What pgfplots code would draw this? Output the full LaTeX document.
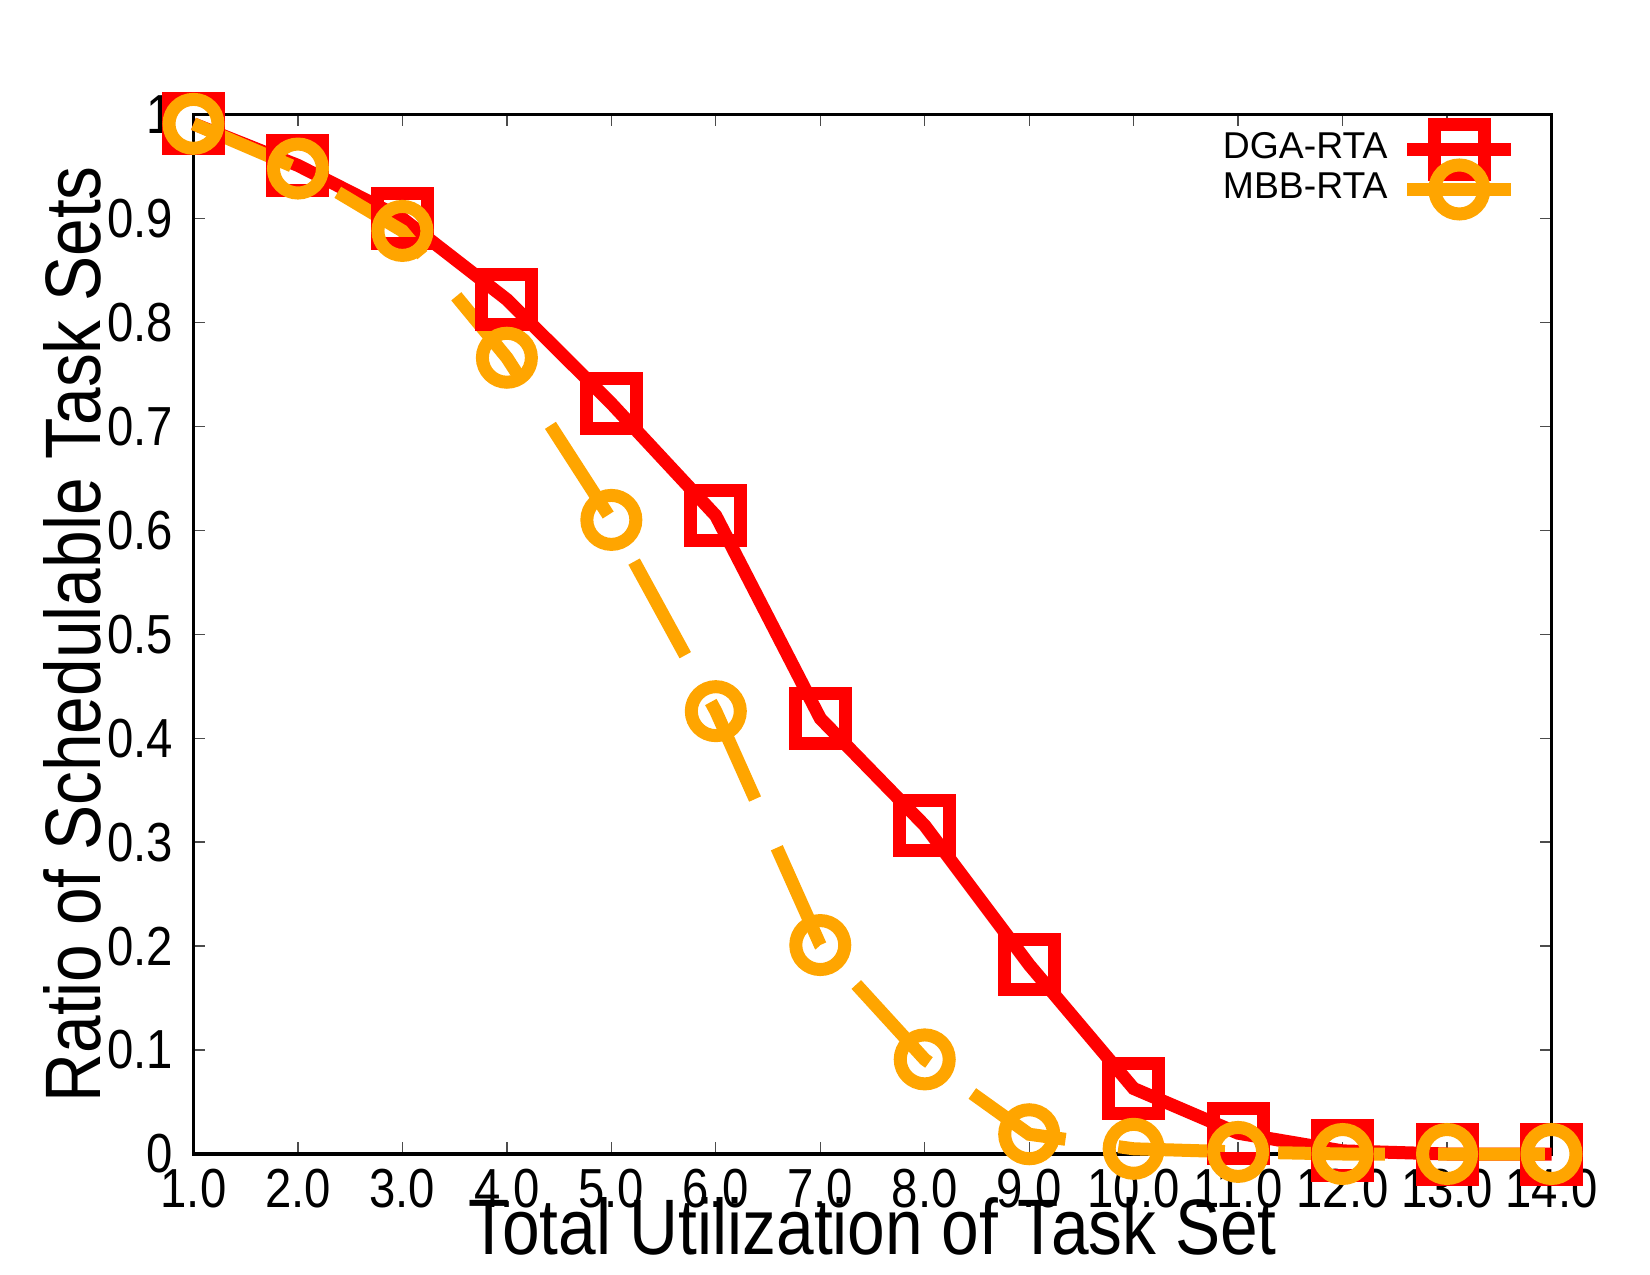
\documentclass[border=0pt]{standalone}
\usepackage{fontspec}
\setmainfont{Liberation Sans}
\newfontfamily\narrowfont{Liberation Sans}[FakeStretch=0.86]
\usepackage{pgfplots}
\pgfplotsset{compat=1.18}

\definecolor{dgared}{RGB}{255,0,0}
\definecolor{mbborange}{RGB}{255,165,0}

\pgfplotstableread{
u     dga    mbb
1     0.991  0.991
2     0.951  0.948
3     0.900  0.888
4     0.822  0.766
5     0.722  0.610
6     0.614  0.426
7     0.419  0.201
8     0.316  0.091
9     0.182  0.019
10    0.063  0.005
11    0.020  0.002
12    0.003  0.000
13    0.000  0.000
14    0.000  0.000
}\sched

\begin{document}
\begin{tikzpicture}
% page frame
\path[use as bounding box] (-58.05pt,-36.3pt) rectangle (436.95pt,346.2pt);
\begin{axis}[
  at={(0pt,0pt)}, anchor=south west,
  scale only axis,
  width=407.4pt, height=311.85pt,
  xmin=1, xmax=14, ymin=0, ymax=1,
  clip=false,
  axis line style={line width=1pt, black},
  tick align=inside,
  major tick length=3.6pt,
  tick style={line width=0.4pt, black!70},
  xtick={1,...,14},
  xticklabels={1.0,2.0,3.0,4.0,5.0,6.0,7.0,8.0,9.0,10.0,11.0,12.0,13.0,14.0},
  ytick={0,0.1,0.2,0.3,0.4,0.5,0.6,0.7,0.8,0.9,1},
  yticklabels={0,0.1,0.2,0.3,0.4,0.5,0.6,0.7,0.8,0.9,1},
  /pgf/number format/assume math mode=true,
  ticklabel style={font=\narrowfont\fontsize{16.5}{19}\selectfont},
  xticklabel style={inner sep=0pt, anchor=north, yshift=-4.2pt},
  yticklabel style={inner sep=0pt, anchor=east, xshift=-6pt},
  xlabel={Total Utilization of Task Set},
  ylabel={Ratio of Schedulable Task Sets},
  every axis x label/.style={at={(axis description cs:0.5,0)}, yshift=-21.6pt, anchor=center,
    font=\narrowfont\fontsize{23.6}{27}\selectfont},
  every axis y label/.style={at={(axis description cs:0,0.5)}, xshift=-36.2pt, rotate=90, anchor=center,
    font=\narrowfont\fontsize{23.6}{27}\selectfont},
  legend plot pos=right,
  legend cell align=right,
  legend style={draw=none, fill=none, at={(axis description cs:1,1)}, anchor=north east,
    xshift=-10.1pt, yshift=-3pt, inner sep=0pt, outer sep=0pt,
    font=\fontsize{11.2}{13}\selectfont, row sep=-2.85pt, column sep=4pt,
    nodes={inner sep=0pt, text height=8pt, text depth=2.5pt}},
  legend image code/.code={%
    \draw[#1, mark=none] (0pt,0pt) -- (31.2pt,0pt);
    \draw[#1, solid] plot coordinates {(15.6pt,0pt)};},
]
\addplot[color=dgared, line width=3.9pt, mark=square, mark size=7.5pt,
  mark options={solid, line width=3.9pt}]
  table[x=u, y=dga] {\sched};
\addlegendentry{DGA-RTA}
\addplot[color=mbborange, line width=3.9pt, dash pattern=on 32pt off 16pt,
  mark=o, mark size=7.35pt, mark options={solid, line width=3.9pt}]
  table[x=u, y=mbb] {\sched};
\addlegendentry{MBB-RTA}
\end{axis}
\end{tikzpicture}
\end{document}
